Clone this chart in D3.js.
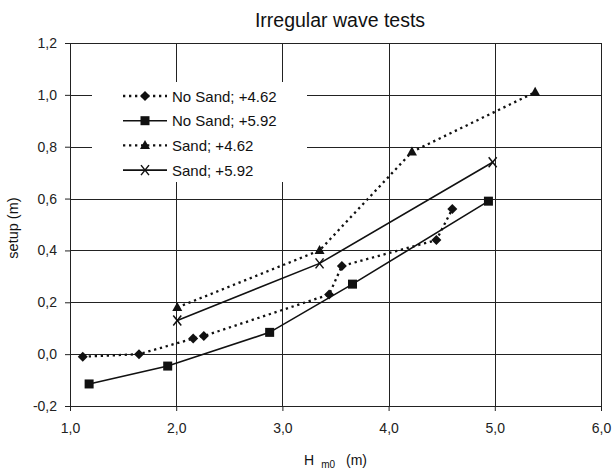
<!DOCTYPE html>
<html>
<head>
<meta charset="utf-8">
<script src="https://cdn.jsdelivr.net/npm/d3@7"></script>
<style>
  html, body { margin: 0; padding: 0; background: #fff; }
  svg { display: block; font-family: Arial, "Liberation Sans", sans-serif; }
</style>
</head>
<body>
<svg id="chart" width="614" height="470"></svg>
<script>
// Wave setup measurements, irregular wave tests
const noSand462H = [1.12, 1.65, 2.16, 2.26, 3.44, 3.56, 4.45, 4.60];
const noSand462V = [-0.01, 0.0, 0.06, 0.07, 0.23, 0.34, 0.44, 0.56];
const noSand592H = [1.18, 1.92, 2.88, 3.66, 4.94];
const noSand592V = [-0.115, -0.046, 0.084, 0.27, 0.59];
const sand462H = [2.01, 3.35, 4.22, 5.38];
const sand462V = [0.18, 0.40, 0.78, 1.01];
const sand592H = [2.01, 3.35, 4.98];
const sand592V = [0.13, 0.35, 0.74];

const xTicks = [1, 2, 3, 4, 5, 6];
const yTicks = [-0.2, 0, 0.2, 0.4, 0.6, 0.8, 1.0, 1.2];
const seriesNames = ["No Sand; +4.62", "No Sand; +5.92", "Sand; +4.62", "Sand; +5.92"];

const series = [
  { name: seriesNames[0], h: noSand462H, v: noSand462V, dotted: true, marker: "diamond" },
  { name: seriesNames[1], h: noSand592H, v: noSand592V, dotted: false, marker: "square" },
  { name: seriesNames[2], h: sand462H, v: sand462V, dotted: true, marker: "triangle" },
  { name: seriesNames[3], h: sand592H, v: sand592V, dotted: false, marker: "cross" }
];

const svg = d3.select("#chart");
const mLeft = 70, mRight = 601, mTop = 43, mBottom = 406;

const x = d3.scaleLinear().domain([1, 6]).range([mLeft, mRight]);
const y = d3.scaleLinear().domain([-0.2, 1.2]).range([mBottom, mTop]);
const fmt = d => d3.format(".1f")(d).replace(".", ",").replace("−", "-");
const px = v => Math.round(v) + 0.5;

// grid
const grid = svg.append("g").attr("stroke", "#222").attr("stroke-width", 1);
grid.selectAll("line.h").data(yTicks).join("line").attr("class", "h")
  .attr("x1", mLeft).attr("x2", mRight)
  .attr("y1", d => px(y(d))).attr("y2", d => px(y(d)));
grid.selectAll("line.v").data(xTicks).join("line").attr("class", "v")
  .attr("y1", mTop).attr("y2", mBottom)
  .attr("x1", d => px(x(d))).attr("x2", d => px(x(d)));

// axes
const xAxis = svg.append("g").attr("transform", `translate(0,${px(y(-0.2)) - 0.5})`)
  .call(d3.axisBottom(x).tickValues(xTicks).tickSize(5).tickPadding(12).tickFormat(fmt));
const yAxis = svg.append("g").attr("transform", `translate(${px(x(1)) - 0.5},0)`)
  .call(d3.axisLeft(y).tickValues(yTicks).tickSize(5).tickPadding(8).tickFormat(fmt));
[xAxis, yAxis].forEach(a => {
  a.select(".domain").attr("stroke", "#222");
  a.selectAll(".tick line").attr("stroke", "#222");
  a.selectAll("text").attr("font-size", 14).attr("fill", "#222")
    .attr("font-family", 'Arial, "Liberation Sans", sans-serif');
});

// legend box (white, covers the grid)
const lg = svg.append("g");
lg.append("rect").attr("x", 92).attr("y", 82).attr("width", 215).attr("height", 100).attr("fill", "#fff");

// markers
function drawMarker(g, type, cx, cy) {
  if (type === "diamond") {
    g.append("path").attr("d", `M${cx},${cy - 5}L${cx + 5},${cy}L${cx},${cy + 5}L${cx - 5},${cy}Z`).attr("fill", "#111");
  } else if (type === "square") {
    g.append("rect").attr("x", cx - 4.5).attr("y", cy - 4.5).attr("width", 9).attr("height", 9).attr("fill", "#111");
  } else if (type === "triangle") {
    g.append("path").attr("d", `M${cx},${cy - 5.5}L${cx + 5},${cy + 3.5}L${cx - 5},${cy + 3.5}Z`).attr("fill", "#111");
  } else {
    g.append("path").attr("d", `M${cx - 4},${cy - 5}L${cx + 4},${cy + 5}M${cx + 4},${cy - 5}L${cx - 4},${cy + 5}`)
      .attr("stroke", "#111").attr("stroke-width", 1.5).attr("fill", "none");
  }
}

const line = d3.line().x(d => x(d[0])).y(d => y(d[1]));
const plot = svg.append("g");
series.forEach(s => {
  const pts = s.h.map((h, i) => [h, s.v[i]]);
  plot.append("path").attr("d", line(pts)).attr("fill", "none").attr("stroke", "#111")
    .attr("stroke-width", s.dotted ? 2.3 : 1.6)
    .attr("stroke-dasharray", s.dotted ? "2.3,3.7" : null);
  pts.forEach(p => drawMarker(plot, s.marker, x(p[0]), y(p[1])));
});

// legend entries
series.forEach((s, i) => {
  const cy = 96 + i * 24.7;
  lg.append("line").attr("x1", 123).attr("x2", 167).attr("y1", cy).attr("y2", cy)
    .attr("stroke", "#111").attr("stroke-width", s.dotted ? 2.3 : 1.6)
    .attr("stroke-dasharray", s.dotted ? "2.3,3.7" : null);
  drawMarker(lg, s.marker, 145, cy);
  lg.append("text").attr("x", 172).attr("y", cy + 5.5).attr("font-size", 15).attr("fill", "#111").text(s.name);
});

// titles
svg.append("text").attr("x", 340).attr("y", 27).attr("text-anchor", "middle")
  .attr("font-size", 19.5).attr("fill", "#111").text("Irregular wave tests");

svg.append("text").attr("transform", "translate(18,228) rotate(-90)").attr("text-anchor", "middle")
  .attr("font-size", 14.5).attr("fill", "#111").text("setup (m)");

const xt = svg.append("text").attr("x", 304).attr("y", 465).attr("font-size", 14).attr("fill", "#111");
xt.append("tspan").text("H");
xt.append("tspan").attr("dx", 7).attr("dy", 3).attr("font-size", 10).text("m0");
xt.append("tspan").attr("dx", 11).attr("dy", -3).text("(m)");
</script>
</body>
</html>
